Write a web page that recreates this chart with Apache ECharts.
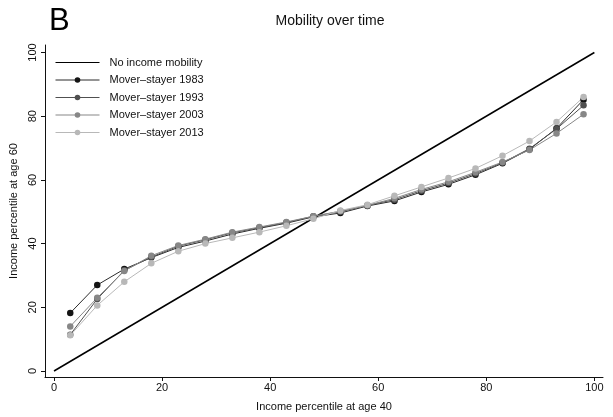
<!DOCTYPE html>
<html>
<head>
<meta charset="utf-8">
<script src="https://cdn.jsdelivr.net/npm/echarts@6/dist/echarts.min.js"></script>
<style>
  html, body { margin: 0; padding: 0; background: #fff; }
  #chart { width: 613px; height: 417px; }
</style>
</head>
<body>
<div id="chart"></div>
<script>
// Income percentile at age 40 (ventile midpoints)
const percentile40 = [3, 8, 13, 18, 23, 28, 33, 38, 43, 48, 53, 58, 63, 68, 73, 78, 83, 88, 93, 98];

// Mean income percentile at age 60, by cohort
const stayer1983 = [18.2, 27.0, 32.0, 35.6, 38.8, 40.8, 43.0, 44.8, 46.4, 48.4, 49.6, 51.8, 53.4, 56.2, 58.6, 61.6, 65.2, 69.6, 76.2, 85.2];
const stayer1993 = [11.4, 22.6, 31.6, 35.8, 39.2, 41.2, 43.4, 45.0, 46.6, 48.6, 50.0, 52.0, 53.8, 56.6, 59.0, 62.0, 65.4, 69.8, 76.0, 83.4];
const stayer2003 = [14.0, 23.0, 31.4, 36.2, 39.4, 41.4, 43.6, 45.2, 46.8, 48.6, 50.2, 52.0, 54.2, 57.0, 59.4, 62.4, 65.6, 69.4, 74.6, 80.6];
const stayer2013 = [11.2, 20.6, 28.0, 33.8, 37.6, 40.0, 41.8, 43.6, 45.6, 47.8, 50.4, 52.2, 55.0, 57.8, 60.6, 63.6, 67.6, 72.2, 78.2, 86.0];

// 45-degree reference line
const diagonal = [[0, 0], [100, 100]];

const tickValues = [0, 20, 40, 60, 80, 100];
const seriesNames = ['No income mobility', 'Mover\u2013stayer 1983', 'Mover\u2013stayer 1993', 'Mover\u2013stayer 2003', 'Mover\u2013stayer 2013'];

const FONT = '"Liberation Sans", Arial, Helvetica, sans-serif';

function pairs(ys) {
  return percentile40.map((x, i) => [x, ys[i]]);
}

function cohortSeries(name, ys, lineColor, markerColor) {
  return {
    name: name,
    type: 'line',
    data: pairs(ys),
    symbol: 'circle',
    symbolSize: 6.5,
    showSymbol: true,
    lineStyle: { color: lineColor, width: 1 },
    itemStyle: { color: markerColor },
    emphasis: { disabled: true },
    animation: false
  };
}

const chart = echarts.init(document.getElementById('chart'), null, { renderer: 'canvas' });

chart.setOption({
  animation: false,
  textStyle: { fontFamily: FONT },
  graphic: [
    {
      type: 'text',
      left: 49,
      top: 6,
      style: { text: 'B', font: '31px ' + FONT, fill: '#000' }
    }
  ],
  title: {
    text: 'Mobility over time',
    left: 325,
    top: 9,
    textAlign: 'center',
    textStyle: { fontFamily: FONT, fontSize: 14, fontWeight: 'normal', color: '#111' }
  },
  legend: {
    left: 55,
    top: 57,
    padding: 0,
    orient: 'vertical',
    itemWidth: 44,
    itemHeight: 7,
    itemGap: 6.5,
    lineStyle: { width: 1 },
    data: [
      { name: seriesNames[0], itemStyle: { opacity: 0 } },
      seriesNames[1], seriesNames[2], seriesNames[3], seriesNames[4]
    ],
    textStyle: { fontFamily: FONT, fontSize: 11, color: '#111', padding: [0, 0, 0, 5] }
  },
  grid: {
    left: 45,
    right: 10,
    top: 45,
    bottom: 40,
    containLabel: false
  },
  xAxis: {
    type: 'value',
    min: -1.67,
    max: 101.6,
    name: 'Income percentile at age 40',
    nameLocation: 'middle',
    nameGap: 24,
    nameTextStyle: { fontFamily: FONT, fontSize: 11, color: '#111' },
    axisLine: { show: true, onZero: false, lineStyle: { color: '#111', width: 1 } },
    axisTick: { show: true, length: 4, customValues: tickValues, lineStyle: { color: '#111' } },
    axisLabel: { customValues: tickValues, fontFamily: FONT, fontSize: 11, color: '#111', margin: 5 },
    splitLine: { show: false }
  },
  yAxis: {
    type: 'value',
    min: -1.88,
    max: 102.35,
    name: 'Income percentile at age 60',
    nameLocation: 'middle',
    nameGap: 25,
    nameRotate: 90,
    nameTextStyle: { fontFamily: FONT, fontSize: 11, color: '#111' },
    axisLine: { show: true, onZero: false, lineStyle: { color: '#111', width: 1 } },
    axisTick: { show: true, length: 4, customValues: tickValues, lineStyle: { color: '#111' } },
    axisLabel: { customValues: tickValues, rotate: 90, fontFamily: FONT, fontSize: 11, color: '#111', margin: 7 },
    splitLine: { show: false }
  },
  series: [
    {
      name: seriesNames[0],
      type: 'line',
      data: diagonal,
      symbol: 'none',
      lineStyle: { color: '#000', width: 1.5 },
      itemStyle: { color: '#000' },
      emphasis: { disabled: true },
      animation: false
    },
    cohortSeries(seriesNames[1], stayer1983, '#2b2b2b', '#141414'),
    cohortSeries(seriesNames[2], stayer1993, '#505050', '#505050'),
    cohortSeries(seriesNames[3], stayer2003, '#878787', '#878787'),
    cohortSeries(seriesNames[4], stayer2013, '#b8b8b8', '#b8b8b8')
  ]
});
</script>
</body>
</html>
